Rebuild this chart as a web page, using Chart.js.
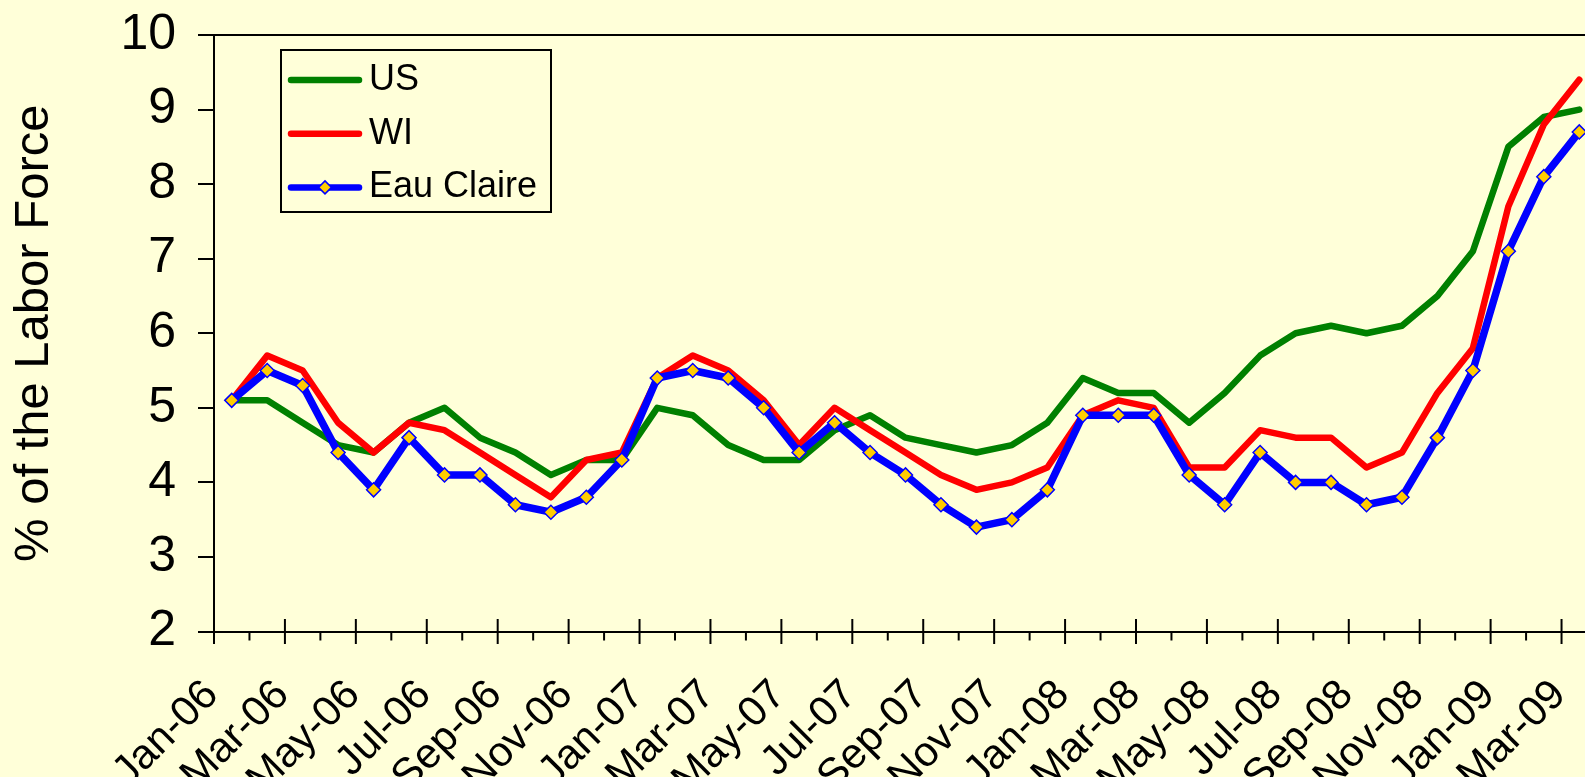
<!DOCTYPE html>
<html>
<head>
<meta charset="utf-8">
<script src="https://cdn.jsdelivr.net/npm/chart.js@4.4.1/dist/chart.umd.min.js"></script>
<style>
  html, body { margin: 0; padding: 0; background: #FFFFD9; overflow: hidden; }
  #wrap { width: 1620px; height: 800px; }
</style>
</head>
<body>
<div id="wrap"><canvas id="myChart" width="1620" height="800"></canvas></div>
<script>
// monthly unemployment rate, % of the labor force
var months = [
  'Jan-06', 'Feb-06', 'Mar-06', 'Apr-06', 'May-06', 'Jun-06', 'Jul-06', 'Aug-06', 'Sep-06', 'Oct-06', 'Nov-06', 'Dec-06',
  'Jan-07', 'Feb-07', 'Mar-07', 'Apr-07', 'May-07', 'Jun-07', 'Jul-07', 'Aug-07', 'Sep-07', 'Oct-07', 'Nov-07', 'Dec-07',
  'Jan-08', 'Feb-08', 'Mar-08', 'Apr-08', 'May-08', 'Jun-08', 'Jul-08', 'Aug-08', 'Sep-08', 'Oct-08', 'Nov-08', 'Dec-08',
  'Jan-09', 'Feb-09', 'Mar-09'
];
var usRate = [
  5.1, 5.1, 4.8, 4.5, 4.4, 4.8, 5.0, 4.6, 4.4, 4.1, 4.3, 4.3,
  5.0, 4.9, 4.5, 4.3, 4.3, 4.7, 4.9, 4.6, 4.5, 4.4, 4.5, 4.8,
  5.4, 5.2, 5.2, 4.8, 5.2, 5.7, 6.0, 6.1, 6.0, 6.1, 6.5, 7.1,
  8.5, 8.9, 9.0
];
var wiRate = [
  5.1, 5.7, 5.5, 4.8, 4.4, 4.8, 4.7, 4.4, 4.1, 3.8, 4.3, 4.4,
  5.4, 5.7, 5.5, 5.1, 4.5, 5.0, 4.7, 4.4, 4.1, 3.9, 4.0, 4.2,
  4.9, 5.1, 5.0, 4.2, 4.2, 4.7, 4.6, 4.6, 4.2, 4.4, 5.2, 5.8,
  7.7, 8.8, 9.4
];
var eauClaireRate = [
  5.1, 5.5, 5.3, 4.4, 3.9, 4.6, 4.1, 4.1, 3.7, 3.6, 3.8, 4.3,
  5.4, 5.5, 5.4, 5.0, 4.4, 4.8, 4.4, 4.1, 3.7, 3.4, 3.5, 3.9,
  4.9, 4.9, 4.9, 4.1, 3.7, 4.4, 4.0, 4.0, 3.7, 3.8, 4.6, 5.5,
  7.1, 8.1, 8.7
];
var yTicks = [2, 3, 4, 5, 6, 7, 8, 9, 10];

var BG = '#FFFFD9';
Chart.defaults.font.family = '"Liberation Sans", Arial, sans-serif';
Chart.defaults.color = '#000';

// tick marks between months (long every 2nd), plot frame and the boxed legend
var decorations = {
  id: 'decorations',
  afterDraw: function(chart) {
    var ctx = chart.ctx;
    var area = chart.chartArea;
    var xs = chart.scales.x;
    var step = xs.getPixelForValue(1) - xs.getPixelForValue(0);
    var axisY = area.bottom;

    ctx.save();
    ctx.strokeStyle = '#000';
    ctx.lineWidth = 2;
    for (var i = 0; i <= months.length; i++) {
      var x = xs.getPixelForValue(i) - step / 2;
      var major = i % 2 === 0;
      ctx.beginPath();
      ctx.moveTo(x, major ? axisY - 12.5 : axisY);
      ctx.lineTo(x, major ? axisY + 12.5 : axisY + 9);
      ctx.stroke();
    }
    // top and right edge of plot
    ctx.beginPath();
    ctx.moveTo(area.left, area.top);
    ctx.lineTo(area.right, area.top);
    ctx.lineTo(area.right, area.bottom);
    ctx.stroke();

    // legend
    ctx.fillStyle = BG;
    ctx.fillRect(281, 50, 270, 162);
    ctx.strokeRect(281, 50, 270, 162);
    var sets = chart.data.datasets;
    for (var j = 0; j < sets.length; j++) {
      var ly = 80 + j * 53.7;
      ctx.strokeStyle = sets[j].borderColor;
      ctx.lineWidth = 6.5;
      ctx.lineCap = 'round';
      ctx.beginPath();
      ctx.moveTo(291, ly);
      ctx.lineTo(359, ly);
      ctx.stroke();
      if (sets[j].pointRadius > 0) {
        var r = sets[j].pointRadius - 0.5;
        ctx.beginPath();
        ctx.moveTo(325, ly - r);
        ctx.lineTo(325 + r, ly);
        ctx.lineTo(325, ly + r);
        ctx.lineTo(325 - r, ly);
        ctx.closePath();
        ctx.fillStyle = sets[j].pointBackgroundColor;
        ctx.fill();
        ctx.lineWidth = sets[j].pointBorderWidth;
        ctx.strokeStyle = sets[j].pointBorderColor;
        ctx.stroke();
      }
      ctx.fillStyle = '#000';
      ctx.font = '36px "Liberation Sans", Arial, sans-serif';
      ctx.textBaseline = 'middle';
      ctx.textAlign = 'left';
      ctx.fillText(sets[j].label, 369, ly);
    }
    ctx.restore();
  }
};

var ctx = document.getElementById('myChart').getContext('2d');
var myChart = new Chart(ctx, {
  type: 'line',
  data: {
    labels: months,
    datasets: [{
      label: 'US',
      data: usRate,
      borderColor: '#008000',
      borderWidth: 6.5,
      pointRadius: 0,
      order: 3
    }, {
      label: 'WI',
      data: wiRate,
      borderColor: '#FF0000',
      borderWidth: 6.5,
      pointRadius: 0,
      order: 2
    }, {
      label: 'Eau Claire',
      data: eauClaireRate,
      borderColor: '#0000FF',
      borderWidth: 7.5,
      pointStyle: 'rectRot',
      pointRadius: 7,
      pointBackgroundColor: '#FFCC00',
      pointBorderColor: '#0000FF',
      pointBorderWidth: 1.5,
      order: 1
    }]
  },
  options: {
    responsive: false,
    animation: false,
    layout: { padding: { top: 35, right: 23, left: 0, bottom: 0 } },
    elements: { line: { tension: 0, borderJoinStyle: 'round', borderCapStyle: 'round' } },
    plugins: { legend: { display: false }, tooltip: { enabled: false } },
    scales: {
      x: {
        type: 'category',
        offset: true,
        grid: { display: true, drawOnChartArea: false, drawTicks: false, offset: true },
        border: { display: true, color: '#000', width: 2 },
        ticks: {
          autoSkip: false,
          minRotation: 45,
          maxRotation: 45,
          padding: 39,
          labelOffset: -20,
          font: { size: 42 },
          color: '#000',
          callback: function(v, i) { return i % 2 === 0 ? months[i] : ''; }
        },
        afterFit: function(s) { s.height = 168.5; s.paddingLeft = 0; s.paddingRight = 0; }
      },
      y: {
        min: 2,
        max: 10,
        afterBuildTicks: function(s) { s.ticks = yTicks.map(function(v) { return { value: v }; }); },
        ticks: { padding: 22, font: { size: 50 }, color: '#000' },
        grid: { drawOnChartArea: false, tickLength: 16, color: '#000', lineWidth: 2 },
        border: { display: true, color: '#000', width: 2 },
        title: {
          display: true,
          text: '% of the Labor Force',
          font: { size: 49 },
          color: '#000',
          padding: { top: 5, bottom: 0 }
        },
        afterFit: function(s) { s.width = 214; s.paddingTop = 0; s.paddingBottom = 0; }
      }
    }
  },
  plugins: [decorations]
});
</script>
</body>
</html>
